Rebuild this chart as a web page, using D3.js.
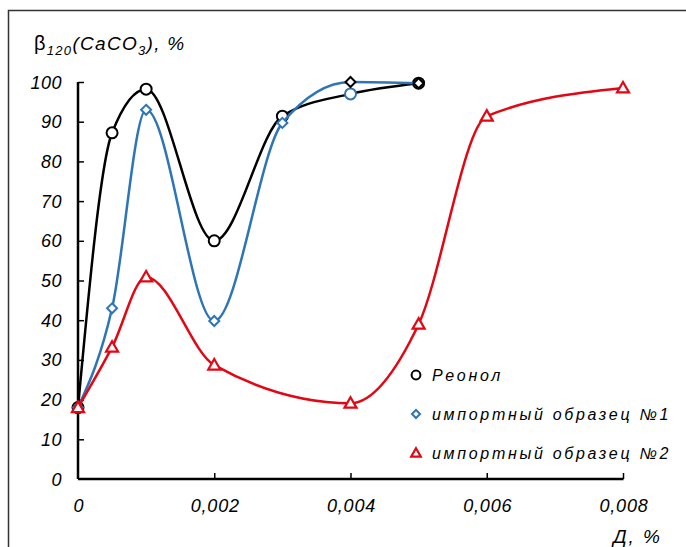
<!DOCTYPE html>
<html><head><meta charset="utf-8">
<script src="https://cdn.jsdelivr.net/npm/d3@7"></script>
<style>body{margin:0;background:#fff}svg{display:block}</style>
</head><body><svg id="c" width="686" height="547"></svg>
<script>
// ---- data ----
const xReonol = [0, 0.0005, 0.001, 0.002, 0.003, 0.004, 0.005];
const yReonol = [18, 87.2, 98.2, 60, 91.4, 97, 99.7];
const xImp1 = [0, 0.0005, 0.001, 0.002, 0.003, 0.004, 0.005];
const yImp1 = [18, 43, 93, 39.8, 89.7, 100, 99.7];
const xImp2 = [0, 0.0005, 0.001, 0.002, 0.004, 0.005, 0.006, 0.008];
const yImp2 = [18, 33.2, 50.9, 28.7, 19.1, 39, 91.4, 98.5];
// marker colour quirks seen in the original (per point, null = series colour)
const mReonol = [null, null, null, null, null, "#2E75B6", null];
const mImp1 = [null, null, null, null, null, "#000000", "#000000"];
const mImp2 = [null, null, null, null, null, null, null, null];
const seriesNames = ["Реонол", "импортный образец №1", "импортный образец №2"];
const xTicks = [0, 0.002, 0.004, 0.006, 0.008];
const xTickLabels = ["0", "0,002", "0,004", "0,006", "0,008"];
const yTicks = [0, 10, 20, 30, 40, 50, 60, 70, 80, 90, 100];

const svg = d3.select("#c");
const x = d3.scaleLinear().domain([0, 0.008]).range([78, 623]);
const y = d3.scaleLinear().domain([0, 100]).range([479, 82]);

// frame
svg.append("rect").attr("x", 8.5).attr("y", 10.5).attr("width", 720).attr("height", 600)
  .attr("fill", "none").attr("stroke", "#333").attr("stroke-width", 1.5);

const tickFont = "'Liberation Sans', Arial, sans-serif";

// axes
const gx = svg.append("g").attr("transform", "translate(0,479)")
  .call(d3.axisTop(x).tickValues(xTicks).tickSize(6).tickFormat(""));
const gy = svg.append("g").attr("transform", "translate(78,0)")
  .call(d3.axisRight(y).tickValues(yTicks).tickSize(6).tickFormat(""));
[gx, gy].forEach(g => {
  g.selectAll("path.domain").attr("stroke", "#000").attr("stroke-width", 2.5);
  g.selectAll(".tick line").attr("stroke", "#000").attr("stroke-width", 1.5);
});
gx.select("path.domain").attr("d", "M78,0H623.5");
gy.select("path.domain").attr("d", "M0,82V479");
gx.selectAll(".tick").filter(d => d === 0).remove();
gy.selectAll(".tick").filter(d => d === 0).remove();

// tick labels
svg.append("g").selectAll("text").data(yTicks).join("text")
  .attr("x", 62).attr("y", d => y(d) + 6.5)
  .attr("text-anchor", "end")
  .attr("font-family", tickFont).attr("font-style", "italic").attr("font-size", 18)
  .attr("letter-spacing", 0.5)
  .text(d => d);
svg.append("g").selectAll("text").data(xTicks).join("text")
  .attr("x", d => x(d) + 1).attr("y", 512)
  .attr("text-anchor", "middle")
  .attr("font-family", tickFont).attr("font-style", "italic").attr("font-size", 18)
  .attr("letter-spacing", 0.8)
  .text((d, i) => xTickLabels[i]);

// axis titles
const t = svg.append("text").attr("x", 34).attr("y", 50)
  .attr("font-family", tickFont).attr("font-style", "italic").attr("font-size", 19)
  .attr("letter-spacing", 1.3);
t.append("tspan").attr("font-style", "normal").attr("font-size", 20).text("β");
t.append("tspan").attr("dy", 5).attr("font-size", 13).text("120");
t.append("tspan").attr("dy", -5).text("(CaCO");
t.append("tspan").attr("dy", 5).attr("font-size", 13).text("3");
t.append("tspan").attr("dy", -5).text("), %");

svg.append("text").attr("x", 662).attr("y", 543).attr("text-anchor", "end")
  .attr("font-family", tickFont).attr("font-style", "italic").attr("font-size", 19)
  .attr("letter-spacing", 2).text("Д, %");

// series
const line = d3.line().curve(d3.curveMonotoneX);
const series = [
  {xs: xReonol, ys: yReonol, mc: mReonol, color: "#000000", shape: "circle"},
  {xs: xImp1, ys: yImp1, mc: mImp1, color: "#2E75B6", shape: "diamond"},
  {xs: xImp2, ys: yImp2, mc: mImp2, color: "#E30613", shape: "triangle"}
];

function marker(g, shape, cx, cy, color, s) {
  if (shape === "circle") {
    g.append("circle").attr("cx", cx).attr("cy", cy).attr("r", 5.5 * s)
      .attr("fill", "#fff").attr("stroke", color).attr("stroke-width", 2);
  } else if (shape === "diamond") {
    const r = 5 * s;
    g.append("path").attr("d", `M${cx},${cy - r}L${cx + r},${cy}L${cx},${cy + r}L${cx - r},${cy}Z`)
      .attr("fill", "#fff").attr("stroke", color).attr("stroke-width", 2);
  } else {
    const r = 6 * s;
    g.append("path").attr("d", `M${cx},${cy - r}L${cx + r},${cy + r * 0.75}L${cx - r},${cy + r * 0.75}Z`)
      .attr("fill", "#fff").attr("stroke", color).attr("stroke-width", 2.2);
  }
}

series.forEach(s => {
  const pts = s.xs.map((v, i) => [x(v), y(s.ys[i])]);
  svg.append("path").attr("d", line(pts)).attr("fill", "none")
    .attr("stroke", s.color).attr("stroke-width", 2.5);
  const g = svg.append("g");
  pts.forEach((p, i) => marker(g, s.shape, p[0], p[1], s.mc[i] || s.color, 1));
});

// legend
const legY = [375, 414, 453];
const leg = svg.append("g");
series.forEach((s, i) => {
  marker(leg, s.shape, 416, legY[i], s.color, 0.8);
  leg.append("text").attr("x", 432).attr("y", legY[i] + 6)
    .attr("font-family", tickFont).attr("font-style", "italic").attr("font-size", 16)
    .attr("letter-spacing", 2.7).text(seriesNames[i]);
});
</script></body></html>
